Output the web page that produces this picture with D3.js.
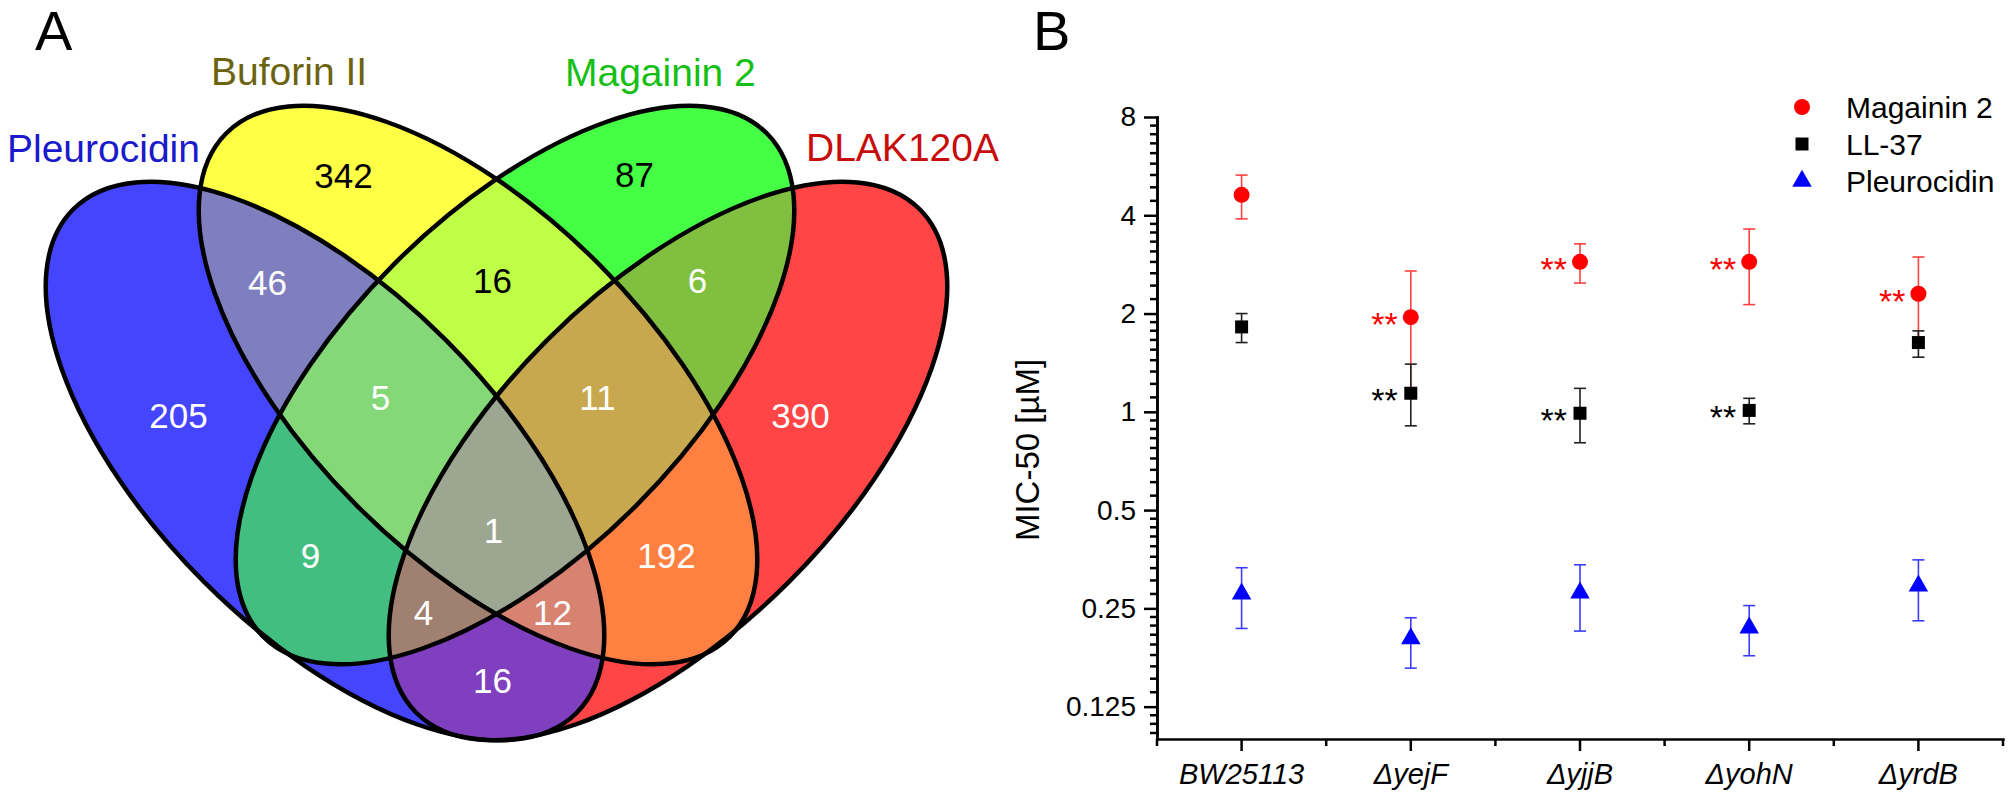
<!DOCTYPE html>
<html lang="en">
<head>
<meta charset="UTF-8">
<title>Venn diagram and MIC-50</title>
<script src="https://d3js.org/d3.v7.min.js"></script>
<style>
  body { margin: 0; background: #fff; }
  svg { display: block; font-family: "Liberation Sans", Arial, sans-serif; }
</style>
</head>
<body>
<svg id="fig" width="2015" height="800"></svg>
<script>
// ---- panel A data ----
const setNames = ["Pleurocidin", "Buforin II", "Magainin 2", "DLAK120A"];
const regionKeys = ["A", "B", "C", "D", "AB", "BC", "CD", "AC", "BD", "AD", "ABC", "BCD", "ACD", "ABD", "ABCD"];
const regionCounts = [205, 342, 87, 390, 46, 16, 6, 9, 192, 16, 5, 11, 4, 12, 1];

// ---- panel B data ----
const strains = ["BW25113", "ΔyejF", "ΔyjjB", "ΔyohN", "ΔyrdB"];
const magainin = [4.62, 1.95, 2.88, 2.88, 2.30];
const magaininLo = [3.90, 1.18, 2.48, 2.13, 1.63];
const magaininHi = [5.31, 2.70, 3.27, 3.63, 2.98];
const ll37 = [1.82, 1.14, 0.99, 1.01, 1.63];
const ll37Lo = [1.63, 0.906, 0.804, 0.919, 1.47];
const ll37Hi = [2.00, 1.40, 1.18, 1.10, 1.77];
const pleurocidin = [0.277, 0.202, 0.279, 0.218, 0.293];
const pleurocidinLo = [0.217, 0.164, 0.213, 0.179, 0.229];
const pleurocidinHi = [0.333, 0.234, 0.340, 0.255, 0.352];
const magaininSig = [false, true, true, true, true];
const ll37Sig = [false, true, true, true, false];
const yTickValues = [0.125, 0.25, 0.5, 1, 2, 4, 8];
const yTickLabels = ["0.125", "0.25", "0.5", "1", "2", "4", "8"];
const seriesNames = ["Magainin 2", "LL-37", "Pleurocidin"];

const svg = d3.select("#fig");

// ================= Panel A : four-set Venn =================
const setColors = ["#1a1acc", "#6b6310", "#15bf15", "#c80c0c"];
const regionFill = {
  A: "#4545ff", B: "#ffff45", C: "#45ff45", D: "#ff4545",
  AB: "#7f7fbf", BC: "#bfff45", CD: "#80bf40", AC: "#42bf80", BD: "#ff8040", AD: "#7f3fbf",
  ABC: "#84d878", BCD: "#c8a84e", ACD: "#a08070", ABD: "#d88272", ABCD: "#9ca690"
};
const darkLabel = { B: true, C: true, BC: true };

// ellipse layout, relative to the diagram centre
const RX = 356, RY = 171;
const ellipses = [
  { cx: -171.5, cy: 56, rot: 45 },
  { cx: -18.5, cy: -20, rot: 45 },
  { cx: 18.5, cy: -20, rot: -45 },
  { cx: 171.5, cy: 56, rot: -45 }
];
const labelPos = {
  A: [-318, 10], B: [-153, -230], C: [138, -231], D: [304, 10],
  AB: [-229, -123], BC: [-4, -125], CD: [201, -125], AC: [-186, 150], BD: [170, 150], AD: [-4, 275],
  ABC: [-116, -8], BCD: [101, -8], ACD: [-73, 207], ABD: [56, 207], ABCD: [-3, 125]
};
const setLabelPos = [[7, 162], [211, 85], [565, 86], [806, 161]];

const venn = svg.append("g").attr("transform", "translate(496.5,405)");
const defs = svg.append("defs");

function addEllipse(sel, e) {
  return sel.append("ellipse")
    .attr("cx", e.cx).attr("cy", e.cy)
    .attr("rx", RX).attr("ry", RY)
    .attr("transform", `rotate(${e.rot} ${e.cx} ${e.cy})`);
}

ellipses.forEach((e, i) => addEllipse(defs.append("clipPath").attr("id", "clip" + i), e));

// paint regions from singles up to the four-way overlap
regionKeys.forEach(key => {
  const idx = key.split("").map(c => "ABCD".indexOf(c));
  let g = venn;
  idx.slice(0, -1).forEach(j => { g = g.append("g").attr("clip-path", `url(#clip${j})`); });
  addEllipse(g, ellipses[idx[idx.length - 1]]).attr("fill", regionFill[key]);
});

ellipses.forEach(e => addEllipse(venn, e).attr("fill", "none").attr("stroke", "#000").attr("stroke-width", 4.5));

venn.selectAll("text.count")
  .data(regionKeys)
  .enter().append("text")
  .attr("class", "count")
  .attr("x", k => labelPos[k][0])
  .attr("y", k => labelPos[k][1])
  .attr("dy", "0.36em")
  .attr("text-anchor", "middle")
  .attr("font-size", 35)
  .attr("fill", k => darkLabel[k] ? "#000" : "#fff")
  .text((k, i) => regionCounts[i]);

svg.selectAll("text.setname")
  .data(setNames)
  .enter().append("text")
  .attr("class", "setname")
  .attr("x", (d, i) => setLabelPos[i][0])
  .attr("y", (d, i) => setLabelPos[i][1])
  .attr("font-size", 39)
  .attr("fill", (d, i) => setColors[i])
  .text(d => d);

svg.append("text").attr("x", 35).attr("y", 50).attr("font-size", 56).text("A");
svg.append("text").attr("x", 1033).attr("y", 50).attr("font-size", 56).text("B");

// ================= Panel B : MIC-50 =================
const x = d3.scaleBand().domain(strains).range([1157, 2003]);
const y = d3.scaleLog().base(2).domain([0.0995, 8]).range([739, 117]);
const xc = d => x(d) + x.bandwidth() / 2;

// minor ticks: 8 linear steps inside each doubling
const yMinor = [];
[0.0625].concat(yTickValues).forEach(v => {
  for (let k = 1; k <= 8; k++) {
    const t = v + k * v / 9;
    if (t > y.domain()[0] && t < y.domain()[1]) yMinor.push(t);
  }
});

const axisStyle = g => {
  g.selectAll("path, line").attr("stroke", "#000").attr("stroke-width", 2.5);
  g.select(".domain").attr("stroke-linecap", "square");
};

svg.append("g")
  .attr("transform", "translate(1157,0)")
  .call(d3.axisLeft(y).tickValues(yMinor).tickSize(7).tickSizeOuter(0).tickFormat(""))
  .call(axisStyle);

svg.append("g")
  .attr("transform", "translate(1157,0)")
  .call(d3.axisLeft(y).tickValues(yTickValues).tickSize(13).tickSizeOuter(0).tickPadding(8)
    .tickFormat((d, i) => yTickLabels[i]))
  .call(axisStyle)
  .call(g => g.selectAll("text").attr("font-size", 28).attr("fill", "#000")
    .attr("font-family", "'Liberation Sans', Arial, sans-serif"));

// band edges carry the short ticks on the x axis
const xEdges = strains.map(d => x(d)).concat([x.range()[1]]);
svg.append("g").selectAll("line")
  .data(xEdges)
  .enter().append("line")
  .attr("x1", d => d).attr("x2", d => d)
  .attr("y1", 739).attr("y2", 746)
  .attr("stroke", "#000").attr("stroke-width", 2.5);

svg.append("g")
  .attr("transform", "translate(0,739)")
  .call(d3.axisBottom(x).tickSize(12).tickSizeOuter(0).tickPadding(12))
  .call(axisStyle)
  .call(g => g.selectAll("text").attr("font-size", 29).attr("font-style", "italic").attr("fill", "#000")
    .attr("font-family", "'Liberation Sans', Arial, sans-serif"));

svg.append("text")
  .attr("transform", "translate(1039,450) rotate(-90)")
  .attr("text-anchor", "middle")
  .attr("font-size", 33)
  .text("MIC-50 [µM]");

// series
const series = [
  { name: seriesNames[0], v: magainin, lo: magaininLo, hi: magaininHi, sig: magaininSig, color: "#ff0000", bar: "#ff4040", symbol: d3.symbolCircle, size: 201 },
  { name: seriesNames[1], v: ll37, lo: ll37Lo, hi: ll37Hi, sig: ll37Sig, color: "#000000", bar: "#222222", symbol: d3.symbolSquare, size: 169 },
  { name: seriesNames[2], v: pleurocidin, lo: pleurocidinLo, hi: pleurocidinHi, sig: null, color: "#0000ff", bar: "#3c3cff", symbol: d3.symbolTriangle, size: 165 }
];

series.forEach(s => {
  const g = svg.append("g");
  const pts = strains.map((d, i) => ({ strain: d, v: s.v[i], lo: s.lo[i], hi: s.hi[i], sig: s.sig ? s.sig[i] : false }));

  g.selectAll("line.err").data(pts).enter().append("line")
    .attr("x1", d => xc(d.strain)).attr("x2", d => xc(d.strain))
    .attr("y1", d => y(d.lo)).attr("y2", d => y(d.hi))
    .attr("stroke", s.bar).attr("stroke-width", 1.6);
  ["lo", "hi"].forEach(end => {
    g.selectAll("line.cap" + end).data(pts).enter().append("line")
      .attr("x1", d => xc(d.strain) - 6).attr("x2", d => xc(d.strain) + 6)
      .attr("y1", d => y(d[end])).attr("y2", d => y(d[end]))
      .attr("stroke", s.bar).attr("stroke-width", 1.6);
  });

  g.selectAll("path.pt").data(pts).enter().append("path")
    .attr("transform", d => `translate(${xc(d.strain)},${y(d.v)})`)
    .attr("d", d3.symbol().type(s.symbol).size(s.size))
    .attr("fill", s.color);

  g.selectAll("text.sig").data(pts.filter(d => d.sig)).enter().append("text")
    .attr("x", d => xc(d.strain) - 13)
    .attr("y", d => y(d.v) + 19)
    .attr("text-anchor", "end")
    .attr("font-size", 34)
    .attr("fill", s.color)
    .text("**");
});

// legend
const legend = svg.append("g").attr("transform", "translate(1802,107)");
series.forEach((s, i) => {
  legend.append("path")
    .attr("transform", `translate(0,${i * 37})`)
    .attr("d", d3.symbol().type(s.symbol).size(s.size))
    .attr("fill", s.color);
  legend.append("text")
    .attr("x", 44).attr("y", i * 37 + 10.5)
    .attr("font-size", 30)
    .text(s.name);
});
</script>
</body>
</html>
